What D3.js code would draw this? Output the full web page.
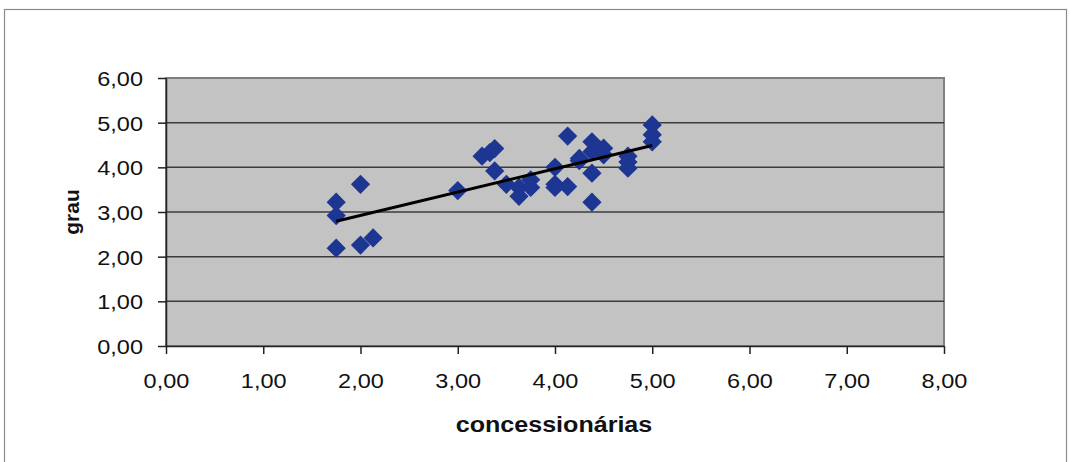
<!DOCTYPE html>
<meta charset="utf-8">

<script src="https://d3js.org/d3.v7.min.js"></script>

<style type="text/css">
  body {
    margin: 0;
    background: #fff;
  }

  text {
    font-family: "Liberation Sans", Arial, sans-serif;
    fill: #111;
  }

  .axis path,
  .axis line {
    stroke: #222;
    stroke-width: 1.5px;
  }

  .grid line {
    stroke: #3c3c3c;
    stroke-width: 1.5px;
  }
</style>

<body>
</body>

<script>

  // concessionárias (x) and grau (y)
  let concessionarias = [1.75, 1.75, 1.75, 2.00, 2.00, 2.13, 3.00, 3.25, 3.33, 3.38,
    3.38, 3.50, 3.63, 3.63, 3.75, 3.75, 4.00, 4.00, 4.13, 4.13,
    4.25, 4.38, 4.38, 4.50, 4.38, 4.38, 4.75, 4.75, 4.75, 5.00,
    5.00, 5.00, 4.25, 4.50, 4.00];
  let grau = [3.22, 2.92, 2.19, 3.62, 2.26, 2.42, 3.48, 4.25, 4.33, 4.42,
    3.92, 3.62, 3.35, 3.55, 3.72, 3.55, 4.00, 3.62, 4.70, 3.57,
    4.20, 4.57, 4.35, 4.43, 3.87, 3.22, 4.25, 4.12, 3.98, 4.95,
    4.73, 4.57, 4.15, 4.28, 3.55];

  let xTicks = [0, 1, 2, 3, 4, 5, 6, 7, 8];
  let yTicks = [0, 1, 2, 3, 4, 5, 6];

  let data = concessionarias.map((x, i) => ({ x: x, y: grau[i] }));

  let fmt = d => d3.format(".2f")(d).replace(".", ",");
  let stretch = 1.12;

  let margin = { top: 78, right: 126, bottom: 116, left: 166 };
  let width = 1070 - margin.left - margin.right,
    height = 462 - margin.top - margin.bottom;

  let root = d3.select("body").append("svg")
    .attr("width", 1070)
    .attr("height", 462);

  // outer chart frame
  root.append("rect")
    .attr("x", 4.5).attr("y", 9.5)
    .attr("width", 1062).attr("height", 470)
    .attr("fill", "none")
    .attr("stroke", "#8a8a8a")
    .attr("stroke-width", 1.2);

  let svg = root.append("g")
    .attr("transform", `translate(${margin.left},${margin.top})`);

  let xScale = d3.scaleLinear().domain([0, 8]).range([0, width]);
  let yScale = d3.scaleLinear().domain([0, 6]).range([height, 0]);

  svg.append("rect")
    .attr("width", width)
    .attr("height", height)
    .attr("fill", "#c3c3c3")
    .attr("stroke", "#7f7f7f")
    .attr("stroke-width", 2);

  svg.append("g")
    .attr("class", "grid")
    .selectAll("line")
    .data(yTicks.filter(d => d > 0 && d < 6))
    .enter().append("line")
    .attr("x1", 0).attr("x2", width)
    .attr("y1", d => yScale(d)).attr("y2", d => yScale(d));

  let xAxis = d3.axisBottom(xScale).tickValues(xTicks).tickFormat(fmt)
    .tickSizeInner(8).tickSizeOuter(0);
  let yAxis = d3.axisLeft(yScale).tickValues(yTicks).tickFormat(fmt)
    .tickSizeInner(8).tickSizeOuter(0);

  let gx = svg.append("g")
    .attr("class", "x axis")
    .attr("transform", `translate(0,${height})`)
    .call(xAxis);

  gx.selectAll("text")
    .attr("font-size", 21)
    .attr("y", 42)
    .attr("dy", null)
    .attr("transform", `scale(${stretch},1)`);

  let gy = svg.append("g")
    .attr("class", "y axis")
    .call(yAxis);

  gy.selectAll("text")
    .attr("font-size", 21)
    .attr("x", -23 / stretch)
    .attr("dy", "0.36em")
    .attr("transform", `scale(${stretch},1)`);

  // least squares trend line
  let mx = d3.mean(data, d => d.x),
    my = d3.mean(data, d => d.y);
  let slope = d3.sum(data, d => (d.x - mx) * (d.y - my)) / d3.sum(data, d => (d.x - mx) * (d.x - mx));
  let icpt = my - slope * mx;
  let xr = d3.extent(data, d => d.x);

  let diamond = d3.symbol().type(d3.symbolSquare).size(185);

  svg.selectAll(".pt")
    .data(data).enter().append("path")
    .attr("class", "pt")
    .attr("d", diamond)
    .attr("fill", "#1d3692")
    .attr("transform", d => `translate(${xScale(d.x)},${yScale(d.y)}) rotate(45)`);

  svg.append("line")
    .attr("x1", xScale(xr[0])).attr("y1", yScale(icpt + slope * xr[0]))
    .attr("x2", xScale(xr[1])).attr("y2", yScale(icpt + slope * xr[1]))
    .attr("stroke", "#000")
    .attr("stroke-width", 3);

  root.append("text")
    .attr("transform", `translate(72,212) rotate(-90)`)
    .attr("text-anchor", "middle")
    .attr("dy", "0.35em")
    .attr("font-size", 21)
    .attr("font-weight", "bold")
    .text("grau");

  root.append("text")
    .attr("transform", `translate(554,432) scale(1.14,1)`)
    .attr("text-anchor", "middle")
    .attr("font-size", 22)
    .attr("font-weight", "bold")
    .text("concessionárias");

</script>
